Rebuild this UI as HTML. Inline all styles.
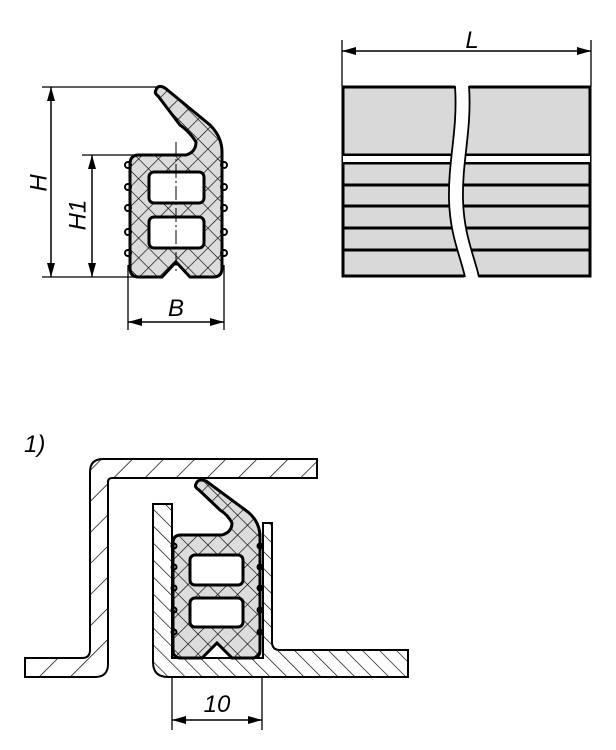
<!DOCTYPE html>
<html><head><style>
html,body{margin:0;padding:0;background:#fff;}
svg{display:block;}
text{font-family:"Liberation Sans",sans-serif;font-style:italic;font-size:24px;fill:#000;}
</style></head><body>
<svg width="616" height="750" viewBox="0 0 616 750" xmlns="http://www.w3.org/2000/svg">
<defs>
<marker id="a" viewBox="0 0 14 8" refX="14" refY="4" markerWidth="14" markerHeight="8" markerUnits="userSpaceOnUse" orient="auto-start-reverse"><path d="M0,0 L14,4 L0,8 Z" fill="#000"/></marker>
<pattern id="xh" width="14" height="14" patternUnits="userSpaceOnUse" patternTransform="rotate(45)">
<rect width="14" height="14" fill="#dcdcdc"/><path d="M0,0 V14 M0,0 H14" stroke="#000" stroke-width="1.3"/></pattern>
<pattern id="h1" width="22" height="22" patternUnits="userSpaceOnUse" patternTransform="rotate(45)">
<rect width="22" height="22" fill="#fff"/><path d="M0,0 V22" stroke="#000" stroke-width="1.4"/></pattern>
<pattern id="h2" width="12" height="12" patternUnits="userSpaceOnUse" patternTransform="rotate(-45)">
<rect width="12" height="12" fill="#fff"/><path d="M0,0 V12" stroke="#000" stroke-width="1.3"/></pattern>
</defs>

<g stroke="#000" fill="none">
<line x1="42" y1="87" x2="158" y2="87" stroke-width="1.3"/>
<line x1="42" y1="277" x2="140" y2="277" stroke-width="1.3"/>
<line x1="82" y1="155" x2="140" y2="155" stroke-width="1.3"/>
<line x1="51" y1="87" x2="51" y2="277" stroke-width="1.5" marker-start="url(#a)" marker-end="url(#a)"/>
<line x1="92" y1="155" x2="92" y2="277" stroke-width="1.5" marker-start="url(#a)" marker-end="url(#a)"/>
<line x1="128" y1="265" x2="128" y2="330" stroke-width="1.3"/>
<line x1="224" y1="265" x2="224" y2="330" stroke-width="1.3"/>
<line x1="128" y1="322" x2="224" y2="322" stroke-width="1.5" marker-start="url(#a)" marker-end="url(#a)"/>
</g>
<text x="40" y="183" transform="rotate(-90 40 183)" text-anchor="middle" dominant-baseline="middle">H</text>
<text x="79" y="215" transform="rotate(-90 79 215)" text-anchor="middle" dominant-baseline="middle">H1</text>
<text x="176" y="316" text-anchor="middle">B</text>

<path d="M156,90 Q158,84 165,88 L210,125 Q222,137 222,152 L222,268 Q222,277 213,277 L190,277 L176,262 L162,277 L139,277 Q130,277 130,268 L130,164 Q130,155 139,155 L186,155 Q196,152 196,142 Q190,132 180,125 L158,96 Q154,93 156,90 Z" fill="url(#xh)" stroke="#000" stroke-width="3"/>
<g fill="#fff" stroke="#000" stroke-width="3">
<rect x="149" y="172" width="55" height="31" rx="5"/>
<rect x="149" y="217" width="55" height="31" rx="5"/>
</g>
<g fill="none" stroke="#000" stroke-width="2">
<circle cx="128" cy="165" r="3"/><circle cx="128" cy="187" r="3"/><circle cx="128" cy="208" r="3"/><circle cx="128" cy="232" r="3"/><circle cx="128" cy="253" r="3"/>
<circle cx="224" cy="165" r="3"/><circle cx="224" cy="187" r="3"/><circle cx="224" cy="208" r="3"/><circle cx="224" cy="232" r="3"/><circle cx="224" cy="253" r="3"/>
</g>
<line x1="176" y1="142" x2="176" y2="272" stroke="#000" stroke-width="1" stroke-dasharray="14,3,2,3"/>

<g stroke="#000" fill="none">
<line x1="342" y1="40" x2="342" y2="86" stroke-width="1.3"/>
<line x1="591" y1="40" x2="591" y2="86" stroke-width="1.3"/>
<line x1="342" y1="51" x2="591" y2="51" stroke-width="1.5" marker-start="url(#a)" marker-end="url(#a)"/>
</g>
<text x="472" y="48" text-anchor="middle">L</text>
<rect x="343" y="87" width="247" height="189" fill="#d9d9d9" stroke="#000" stroke-width="3"/>
<g stroke="#000" stroke-width="3">
<line x1="343" y1="155" x2="590" y2="155"/><line x1="343" y1="163" x2="590" y2="163"/>
<line x1="343" y1="185" x2="590" y2="185"/><line x1="343" y1="206" x2="590" y2="206"/>
<line x1="343" y1="228" x2="590" y2="228"/><line x1="343" y1="250" x2="590" y2="250"/>
</g>
<rect x="343" y="156" width="247" height="6" fill="#fff"/>
<path d="M455,84 C458,130 448,160 449,200 C450,235 460,255 465,279 L479,279 C474,255 464,235 463,200 C462,160 472,130 469,84 Z" fill="#fff"/>
<path d="M455,86 C458,130 448,160 449,200 C450,235 460,255 465,277 M469,86 C472,130 462,160 463,200 C464,235 474,255 479,277" fill="none" stroke="#000" stroke-width="1.8"/>

<text x="24" y="452">1)</text>
<path d="M25,658 L82,658 Q90,658 90,650 L90,472 Q90,459 103,459 L317,459 L317,478 L112,478 Q108,478 108,482 L108,664 Q108,677 95,677 L25,677 Z" fill="url(#h1)" stroke="#000" stroke-width="2"/>
<path d="M153,504 L172,504 L172,658 L263,658 L263,523 L272,523 L272,642 Q272,650 280,650 L408,650 L408,677 L168,677 Q153,677 153,662 Z" fill="url(#h2)" stroke="#000" stroke-width="2"/>

<path d="M196,484 Q198,478 206,481 L248,512 Q260,522 260,537 L260,650 Q260,658 252,658 L232,658 L217,643 L202,658 L181,658 Q173,658 173,650 L173,543 Q173,535 181,535 L222,535 Q232,532 232,523 Q228,515 220,510 L199,490 Q194,487 196,484 Z" fill="url(#xh)" stroke="#000" stroke-width="3"/>
<g fill="#fff" stroke="#000" stroke-width="3">
<rect x="190" y="555" width="53" height="30" rx="5"/>
<rect x="190" y="598" width="53" height="29" rx="5"/>
</g>
<g fill="none" stroke="#000" stroke-width="2">
<circle cx="174" cy="546" r="2.5"/><circle cx="174" cy="567" r="2.5"/><circle cx="174" cy="588" r="2.5"/><circle cx="174" cy="610" r="2.5"/><circle cx="174" cy="632" r="2.5"/>
<circle cx="260" cy="546" r="2.5"/><circle cx="260" cy="567" r="2.5"/><circle cx="260" cy="588" r="2.5"/><circle cx="260" cy="610" r="2.5"/><circle cx="260" cy="632" r="2.5"/>
</g>
<g stroke="#000" fill="none">
<line x1="172" y1="677" x2="172" y2="730" stroke-width="1.3"/>
<line x1="262" y1="677" x2="262" y2="730" stroke-width="1.3"/>
<line x1="172" y1="720" x2="262" y2="720" stroke-width="1.5" marker-start="url(#a)" marker-end="url(#a)"/>
</g>
<text x="217" y="712" text-anchor="middle">10</text>
</svg>
</body></html>
